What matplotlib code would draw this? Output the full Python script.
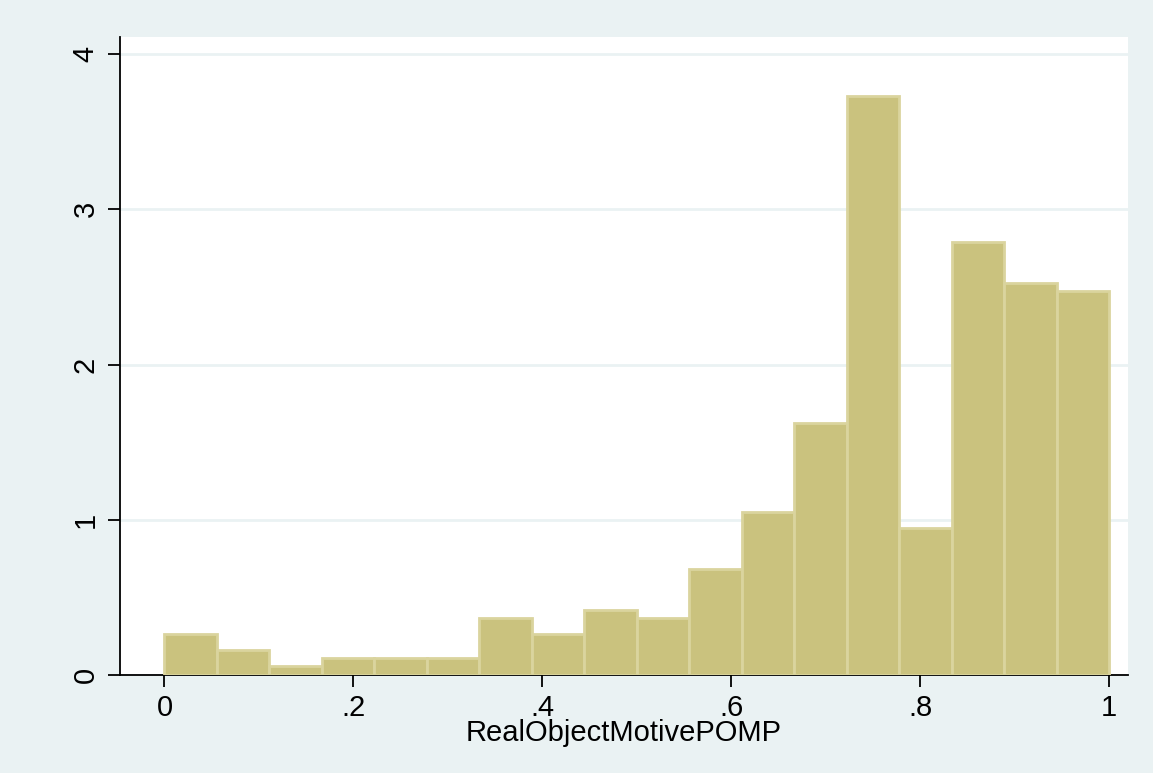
import numpy as np
import matplotlib.pyplot as plt

plt.rcParams['font.family'] = ['Liberation Sans', 'DejaVu Sans']

# density histogram, 18 bins on [0, 1]
bin_edges = np.linspace(0, 1, 19)
density = [0.264, 0.161, 0.055, 0.109, 0.109, 0.109, 0.370, 0.262, 0.419,
           0.369, 0.681, 1.05, 1.621, 3.73, 0.945, 2.787, 2.523, 2.473]
xticks = [0, 0.2, 0.4, 0.6, 0.8, 1.0]
xticklabels = ['0', '.2', '.4', '.6', '.8', '1']
yticks = [0, 1, 2, 3, 4]
xlabel = 'RealObjectMotivePOMP'

bg = '#EAF2F3'
fill = '#CAC27E'
edge = '#DAD49E'

fig = plt.figure(figsize=(11.53, 7.73), dpi=100, facecolor=bg)
ax = fig.add_axes([120/1153, 1 - 675/773, (1127.7-120)/1153, (675-37)/773])
ax.set_facecolor('white')

ax.bar(bin_edges[:-1], density, width=np.diff(bin_edges), align='edge',
       color=fill, edgecolor=edge, linewidth=2, zorder=3)

ax.set_xlim(-0.0471, 1.0195)
ax.set_ylim(0, 4.11)

ax.set_xticks(xticks)
ax.set_xticklabels(xticklabels)
ax.set_yticks(yticks)
ax.set_yticklabels([str(v) for v in yticks], rotation=90, va='center')

ax.grid(axis='y', color=bg, linewidth=2, zorder=0)
ax.set_axisbelow(True)

for s in ['top', 'right']:
    ax.spines[s].set_visible(False)
for s in ['left', 'bottom']:
    ax.spines[s].set_linewidth(1.3)
    ax.spines[s].set_color('black')

ax.tick_params(axis='both', length=8.5, width=1.3, labelsize=21, pad=5)
ax.tick_params(axis='y', pad=6)

ax.set_xlabel(xlabel, fontsize=21, labelpad=-2)

fig.savefig('out.png', dpi=100, facecolor=bg)
